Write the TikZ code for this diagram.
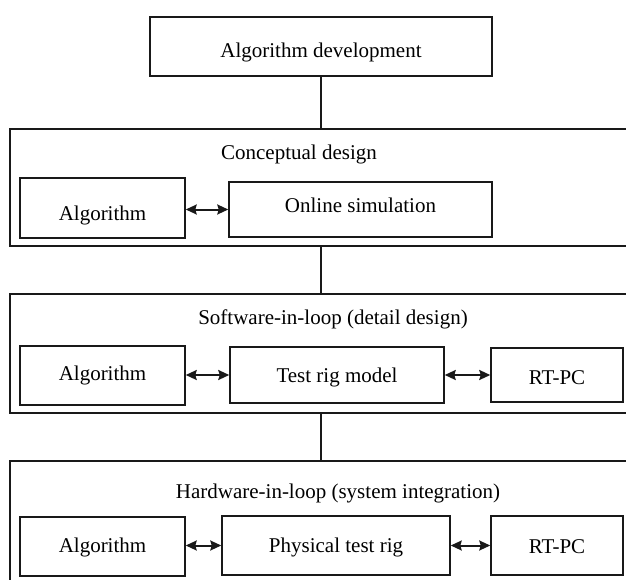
\documentclass[tikz,border=0pt]{standalone}
\usepackage{fontspec}
\setmainfont{Liberation Serif}
\usetikzlibrary{arrows.meta}
\begin{document}
\begin{tikzpicture}[x=1pt,y=-1pt,
  box/.style={draw=black!90,line width=1.5pt,inner sep=0pt,rectangle,font=\fontsize{21}{25}\selectfont,text depth=0pt},
  bl/.style={text height=#1},
  outerbox/.style={draw=black!90,line width=1.5pt,inner sep=0pt,rectangle},
  lbl/.style={inner sep=0pt,anchor=base,font=\fontsize{21}{25}\selectfont},
  link/.style={draw=black!90,line width=1.5pt},
  tip/.style={Stealth[length=11pt,width=10pt,inset=1.5pt]},
  biarrow/.style={draw=black!90,fill=black!90,line width=2pt,{Stealth[length=11pt,width=10pt,inset=1.5pt]}-{Stealth[length=11pt,width=10pt,inset=1.5pt]}}]
\clip (0,0) rectangle (626,580);
\useasboundingbox (0,0) rectangle (626,580);
\fill[white] (0,0) rectangle (626,580);
% top
\node[box,bl=22pt,minimum width=342pt,minimum height=59pt] (top) at (321,46.5) {Algorithm development};
% conceptual design
\node[outerbox,minimum width=622pt,minimum height=117pt] (cd) at (321,187.5) {};
\node[lbl] (cdl) at (299,159.5) {Conceptual design};
\node[box,bl=24pt,minimum width=165pt,minimum height=60pt] (alga) at (102.5,208) {Algorithm};
\node[box,bl=6.5pt,minimum width=263pt,minimum height=55pt] (sim) at (360.5,209.5) {Online simulation};
% software in loop
\node[outerbox,minimum width=622pt,minimum height=119pt] (sil) at (321,353.5) {};
\node[lbl] (sill) at (333,324) {Software-in-loop (detail design)};
\node[box,bl=10pt,minimum width=165pt,minimum height=59pt] (algb) at (102.5,375.5) {Algorithm};
\node[box,bl=14pt,minimum width=214pt,minimum height=56pt] (trm) at (337,375) {Test rig model};
\node[box,bl=19pt,minimum width=132pt,minimum height=54pt] (rta) at (557,375) {RT-PC};
% hardware in loop
\node[outerbox,minimum width=622pt,minimum height=139pt] (hil) at (321,530.5) {};
\node[lbl] (hill) at (338,498) {Hardware-in-loop (system integration)};
\node[box,bl=12pt,minimum width=165pt,minimum height=59pt] (algc) at (102.5,546.5) {Algorithm};
\node[box,bl=14pt,minimum width=228pt,minimum height=59pt] (ptr) at (336,545.5) {Physical test rig};
\node[box,bl=15pt,minimum width=132pt,minimum height=59pt] (rtb) at (557,545.5) {RT-PC};
% vertical links
\draw[link] (top.south) -- (cd.north);
\draw[link] (cd.south) -- (sil.north);
\draw[link] (sil.south) -- (hil.north);
% arrows
\draw[biarrow] (alga.east |- sim.center) -- (sim.west);
\draw[biarrow] (algb.east |- trm.center) -- (trm.west);
\draw[biarrow] (trm.east) -- (rta.west);
\draw[biarrow] (algc.east |- ptr.center) -- (ptr.west);
\draw[biarrow] (ptr.east) -- (rtb.west);
\end{tikzpicture}
\end{document}
